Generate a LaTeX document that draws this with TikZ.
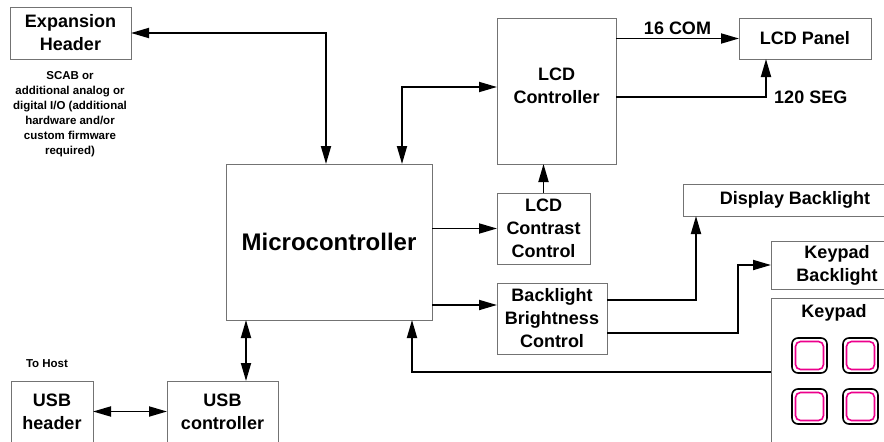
\documentclass[tikz,border=0pt]{standalone}
\usepackage{fontspec}
\setmainfont{Liberation Sans}
\usetikzlibrary{arrows.meta}

\begin{document}
\begin{tikzpicture}[x=1pt,y=-1pt,
  blk/.style={draw=gray!90!black,line width=0.9pt,inner sep=0pt,outer sep=0pt,anchor=north west,align=center,
    font=\fontsize{18}{23}\selectfont\bfseries},
  wire/.style={line width=1.8pt,-{Triangle[length=18pt,width=10pt]}},
  bwire/.style={line width=1.8pt,{Triangle[length=18pt,width=10pt]}-{Triangle[length=18pt,width=10pt]}},
  note/.style={align=center,font=\fontsize{11.5}{15}\selectfont\bfseries}]
\useasboundingbox (0,0) rectangle (884,442);
\clip (0,0) rectangle (884,442);

\node[blk,minimum width=121pt,minimum height=52pt] (exp) at (10,7) {Expansion\\Header};
\node[note] (expnote) at (70,114) {SCAB or\\additional analog or\\digital I/O (additional\\hardware and/or\\custom firmware\\required)};
\node[blk,minimum width=206pt,minimum height=156pt,font=\fontsize{24}{28}\selectfont\bfseries] (micro) at (226,164) {Microcontroller};
\node[blk,minimum width=119pt,minimum height=146pt] (lcdc) at (497,18) {LCD\\Controller\\[-13pt]};
\node[blk,minimum width=132pt,minimum height=41pt] (panel) at (739,18) {LCD Panel};
\node[blk,minimum width=93pt,minimum height=71pt] (contrast) at (497,193) {LCD\\Contrast\\Control};
\node[blk,minimum width=110pt,minimum height=71pt] (bright) at (497,283) {Backlight\\Brightness\\Control};
\node[blk,minimum width=224pt,minimum height=32pt] (dispbl) at (683,184) {Display Backlight};
\node[blk,minimum width=132pt,minimum height=48pt] (keybl) at (771,241) {Keypad\\Backlight};
\node[blk,minimum width=132pt,minimum height=150pt] (keypad) at (771,298) {};
\node[font=\fontsize{18}{23}\selectfont\bfseries] (keytitle) at (834,313) {Keypad};
\node[blk,minimum width=82pt,minimum height=61pt] (usbh) at (11,381) {USB\\header};
\node[blk,minimum width=111pt,minimum height=61pt] (usbc) at (167,381) {USB\\controller};
\node[note] (host) at (47,364) {To Host};

\foreach \kx/\ky [count=\k] in {792/338,843/338,792/389,843/389}{
  \draw[line width=1.6pt,rounded corners=6pt] (\kx,\ky) rectangle +(35,35);
  \draw[magenta,line width=1.6pt,rounded corners=5pt] (\kx+3.5,\ky+3.5) rectangle +(28,28);}

\draw[bwire] (exp.east) -| ([xshift=100pt]micro.north west);
\draw[bwire] ([xshift=176pt]micro.north west) |- ([yshift=4pt]lcdc.west);
\draw[wire] (contrast.north) -- (contrast.north |- lcdc.south);
\draw[wire] (lcdc.east |- panel.west) -- node[above,font=\fontsize{18}{23}\selectfont\bfseries] (com) {16 COM} (panel.west);
\draw[wire] ([yshift=-6pt]lcdc.east) -| node[pos=0.5,anchor=west,xshift=4pt,font=\fontsize{18}{23}\selectfont\bfseries] (seg) {120 SEG} ([xshift=27pt]panel.south west);
\draw[wire] (micro.east |- contrast.west) -- (contrast.west);
\draw[wire] (micro.east |- 0,305) -- (bright.west |- 0,305);
\draw[wire] ([yshift=-17pt]bright.north east) -| ([xshift=13pt]dispbl.south west);
\draw[wire] ([yshift=21pt]bright.south east) -| ([xshift=-33pt]keybl.west) -- (keybl.west);
\draw[wire] ([yshift=-74pt]keypad.north west) -| ([xshift=-20pt]micro.south east);
\draw[bwire] ([xshift=20pt]micro.south west) -- ([xshift=20pt]micro.south west |- usbc.north);
\draw[bwire] (usbh.east) -- (usbc.west);
\end{tikzpicture}
\end{document}
